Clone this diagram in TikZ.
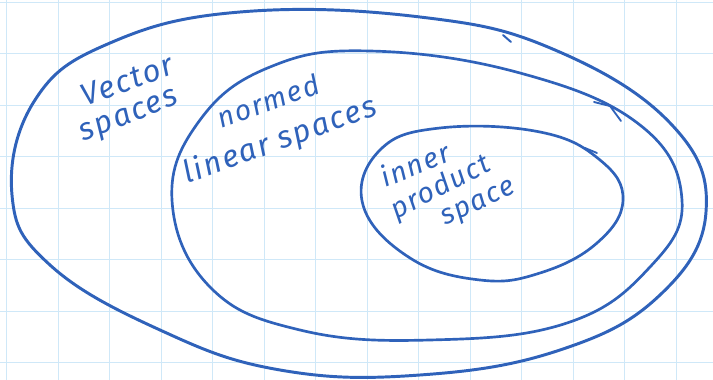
\documentclass[tikz,border=0pt]{standalone}
\usepackage{fontspec}
\setmainfont{Fira Sans}[LetterSpace=6]
\definecolor{ink}{HTML}{2F62BA}
\definecolor{gridline}{HTML}{CFE8F8}

\begin{document}
\begin{tikzpicture}[x=0.025cm,y=-0.025cm,
  loop/.style={draw=ink,line width=1.9pt,line cap=round,line join=round},
  word/.style={text=ink,font=\fontsize{22}{24}\selectfont\itshape,inner sep=0pt},
  smallword/.style={word,font=\fontsize{20}{22}\selectfont\itshape}]
  \useasboundingbox (0,0) rectangle (713,380);
  \fill[white] (0,0) rectangle (713,380);

  % Grid paper
  \foreach \x in {6.5,58,...,700}{
    \draw[gridline,line width=0.7pt] (\x,0) -- (\x,380);
  }
  \foreach \y in {2,53.5,...,380}{
    \draw[gridline,line width=0.7pt] (0,\y) -- (713,\y);
  }

  % Vector spaces
  \draw[loop,line width=2.1pt] plot[smooth cycle,tension=0.7] coordinates {
    (12,195) (35,100) (110,43) (240,12) (420,17) (555,50) (672,125)
    (706,212) (660,295) (560,350) (420,375) (280,370) (160,330) (50,265)};
  \draw[loop,line width=1.4pt] (503,35) -- (511,42);
  \node[word,rotate=20] (vec) at (127,80) {Vector};
  \node[word,rotate=22] (vecsp) at (130,118) {spaces};

  % Normed linear spaces
  \draw[loop] plot[smooth cycle,tension=0.7] coordinates {
    (172,200) (200,120) (270,67) (370,51) (520,73) (640,125)
    (682,200) (650,267) (567,323) (430,340) (300,330) (210,287)};
  \draw[loop,line width=1.3pt] (594,102) -- (610,106) -- (621,121);
  \node[smallword,rotate=20] (norm) at (268,101) {normed};
  \node[word,rotate=20] (normsp) at (280,141) {linear spaces};

  % Inner product space
  \draw[loop] plot[smooth cycle,tension=0.7] coordinates {
    (363,205) (380,150) (440,128) (540,132) (600,160) (623,200)
    (597,243) (540,273) (480,280) (410,258)};
  \draw[loop,line width=1.3pt] (585,148) -- (597,153);
  \node[smallword,rotate=22] (inn) at (415,164) {inner};
  \node[smallword,rotate=27] (prod) at (441,188) {product};
  \node[smallword,rotate=25] (prodsp) at (479,205) {space};
\end{tikzpicture}
\end{document}
